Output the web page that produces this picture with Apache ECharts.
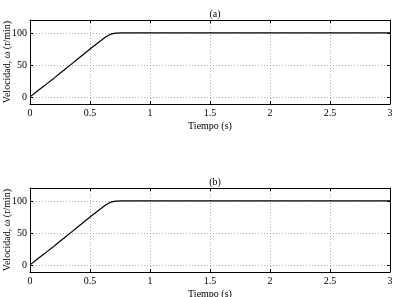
<!DOCTYPE html>
<html><head><meta charset="utf-8">
<script src="https://cdn.jsdelivr.net/npm/echarts@6/dist/echarts.min.js"></script>
<style>html,body{margin:0;padding:0;background:#fff}#c{width:395px;height:297px}</style>
</head><body><div id="c"></div>
<script>
const timeA = [0, 0.1, 0.2, 0.3, 0.4, 0.5, 0.6, 0.63, 0.66, 0.69, 0.72, 0.76, 0.8, 1.5, 2, 2.5, 3];
const speedA = [1, 15.5, 30, 45, 60, 75, 89.5, 93.5, 96.8, 98.8, 99.7, 100, 100, 100, 100, 100, 100];
const timeB = [0, 0.1, 0.2, 0.3, 0.4, 0.5, 0.6, 0.63, 0.66, 0.69, 0.72, 0.76, 0.8, 1.5, 2, 2.5, 3];
const speedB = [1, 15.5, 30, 45, 60, 75, 89.5, 93.5, 96.8, 98.8, 99.7, 100, 100, 100, 100, 100, 100];
const xTicks = [0, 0.5, 1, 1.5, 2, 2.5, 3];
const yTicks = [0, 50, 100];
const titles = ['(a)', '(b)'];
const xName = 'Tiempo (s)';
const yName = 'Velocidad, \u03c9 (r/min)';

const font = 'Liberation Serif';
const grids = [{left:30, right:5, top:20, height:84, outerBoundsMode:'none', containLabel:false},
               {left:30, right:5, top:188, height:84, outerBoundsMode:'none', containLabel:false}];
const xAxes = [], yAxes = [];
grids.forEach((g, i) => {
  xAxes.push({
    type:'value', gridIndex:i, min:0, max:3, position:'bottom',
    name:xName, nameLocation:'middle', nameGap:17,
    nameTextStyle:{fontFamily:font, fontSize:10, color:'#000'},
    axisLine:{onZero:false, lineStyle:{color:'#000', width:1}},
    axisTick:{inside:true, length:3, customValues:xTicks, lineStyle:{color:'#000'}},
    axisLabel:{customValues:xTicks, fontFamily:font, fontSize:10, color:'#000', margin:4},
    splitLine:{show:true, lineStyle:{type:[1,2], color:'#999', width:0.8}}
  });
  xAxes.push({
    type:'value', gridIndex:i, min:0, max:3, position:'top',
    axisLine:{show:true, onZero:false, lineStyle:{color:'#000', width:1}},
    axisTick:{inside:true, length:3, customValues:xTicks, lineStyle:{color:'#000'}},
    axisLabel:{show:false}, splitLine:{show:false}
  });
  yAxes.push({
    type:'value', gridIndex:i, min:-10, max:120, position:'left',
    name:yName, nameLocation:'middle', nameGap:18, nameMoveOverlap:false,
    nameTextStyle:{fontFamily:font, fontSize:10, color:'#000'},
    axisLine:{show:true, onZero:false, lineStyle:{color:'#000', width:1}},
    axisTick:{show:true, inside:true, length:3, customValues:yTicks, lineStyle:{color:'#000'}},
    axisLabel:{customValues:yTicks, fontFamily:font, fontSize:10, color:'#000', margin:3},
    splitLine:{show:true, lineStyle:{type:[1,2], color:'#999', width:0.8}}
  });
  yAxes.push({
    type:'value', gridIndex:i, min:-10, max:120, position:'right',
    axisLine:{show:true, onZero:false, lineStyle:{color:'#000', width:1}},
    axisTick:{show:true, inside:true, length:3, customValues:yTicks, lineStyle:{color:'#000'}},
    axisLabel:{show:false}, splitLine:{show:false}
  });
});
const chart = echarts.init(document.getElementById('c'), null, {renderer:'canvas'});
chart.setOption({
  backgroundColor:'#fff',
  animation:false,
  title: titles.map((t, i) => ({text:t, left:210, top: i===0 ? 4 : 172, textAlign:'center',
    textStyle:{fontFamily:font, fontSize:10, fontWeight:'normal', color:'#000'}})),
  grid: grids,
  xAxis: xAxes,
  yAxis: yAxes,
  series: [
    {type:'line', xAxisIndex:0, yAxisIndex:0, data: timeA.map((t,k)=>[t, speedA[k]]), showSymbol:false, smooth:0.3,
     lineStyle:{color:'#000', width:1.2}},
    {type:'line', xAxisIndex:2, yAxisIndex:2, data: timeB.map((t,k)=>[t, speedB[k]]), showSymbol:false, smooth:0.3,
     lineStyle:{color:'#000', width:1.2}}
  ]
});
</script></body></html>
